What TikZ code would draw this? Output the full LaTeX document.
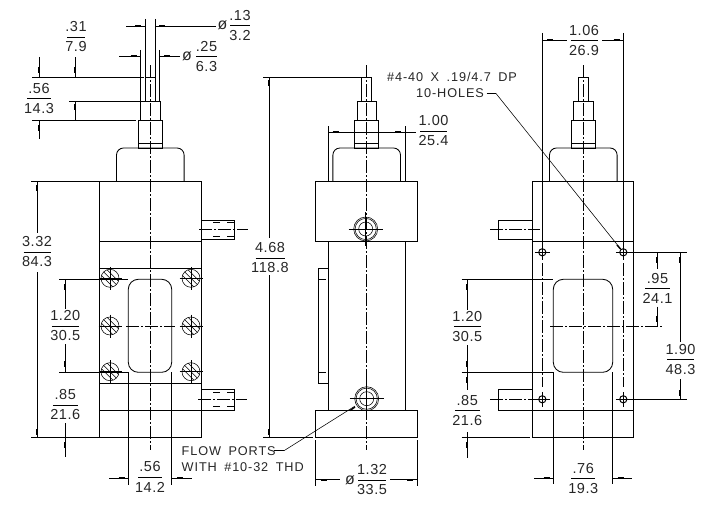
\documentclass[tikz,border=0pt]{standalone}
\usepackage{fontspec}
\setmainfont[LetterSpace=4]{Liberation Sans}
\newfontfamily\notefont[LetterSpace=7,WordSpace=1.7]{Liberation Sans}
\usetikzlibrary{calc}
\def\barGap{10}
\tikzstyle{part} = [line width=0.85pt,black]
\tikzstyle{dim} = [line width=0.8pt,black]
\tikzstyle{thinline} = [line width=0.55pt,black]
\tikzstyle{centerline} = [line width=0.7pt,black,dash pattern=on 13pt off 2pt on 2pt off 2pt]
\tikzstyle{blob} = [line width=1.9pt,black]
\tikzstyle{dimtext} = [inner sep=0pt,font=\fontsize{14.5}{14.5}\selectfont,text=black!85]
\tikzstyle{notetext} = [inner sep=0pt,anchor=west,font=\notefont\fontsize{12.7}{12.7}\selectfont,text=black!85]

\begin{document}
\begin{tikzpicture}[x=1pt,y=-1pt]
    \useasboundingbox (0,0) rectangle (714,511);

    % Draw the stem and the dome of each view
    \foreach \cx in {150.3,366.7,583.3} {
        \draw[part] (\cx-5.2,101) -- (\cx-5.2,77.3) -- (\cx+5.2,77.3) -- (\cx+5.2,101);
        \draw[part] (\cx-9.7,120.3) -- (\cx-9.7,101) -- (\cx+9.7,101) -- (\cx+9.7,120.3);
        \draw[part] (\cx-12.2,148) rectangle (\cx+12.2,120.3);
        \draw[part] (\cx-12.2,143.3) -- (\cx+12.2,143.3);
        \draw[part,rounded corners=7pt] (\cx-33.8,181) -- (\cx-33.8,148) -- (\cx+33.8,148) -- (\cx+33.8,181);
        \draw[centerline] (\cx,65) -- (\cx,450);
    }

    % Draw the left view
    \draw[part] (99.3,181) rectangle (201.7,437);
    \foreach \y in {241,268,383,410}
        \draw[part] (99.3,\y) -- (201.7,\y);
    \draw[part,rounded corners=10pt] (128.3,300) -- (128.3,279.3) -- (171.7,279.3) -- (171.7,372.3) -- (128.3,372.3) -- (128.3,350) -- cycle;
    \draw[centerline] (126,326) -- (175,326);

    % Draw the ports
    \draw[part] (201.7,220.3) rectangle (234.7,239.3);
    \draw[part] (201.7,389.3) rectangle (234.7,410);
    \draw[centerline] (199,229.3) -- (248,229.3);
    \draw[centerline] (198,399.7) -- (247,399.7);
    \foreach \x/\y in {213/222.7,213/236.7,213/392.7,213/406}
        \draw[thinline] (\x,\y) -- (\x+7,\y) (\x+14,\y) -- (\x+21,\y);
    \draw[part] (498.3,220) rectangle (532.3,239.7);
    \draw[part] (498.3,389.3) rectangle (532.3,410);
    \draw[centerline] (490,229.3) -- (540,229.3);
    \draw[centerline] (490,399.3) -- (535,399.3);

    % Draw the hatched holes
    \foreach \hx in {110,191}
        \foreach \hy in {278.3,326,371.7} {
            \draw[thinline] (\hx,\hy) circle (9);
            \draw[thinline] (\hx-11.5,\hy) -- (\hx+11.5,\hy) (\hx,\hy-11.5) -- (\hx,\hy+11.5);
            \foreach \d/\l in {-4/8,0/9,4/8}
                \draw[thinline] (\hx+0.707*\d-0.707*\l,\hy-0.707*\d-0.707*\l) -- (\hx+0.707*\d+0.707*\l,\hy-0.707*\d+0.707*\l);
        }

    % Draw the middle view
    \draw[part] (315.3,181) rectangle (417.7,241.7);
    \draw[part] (315.3,410.3) rectangle (417.7,437.3);
    \draw[part] (328.3,241.7) -- (328.3,410.3) (405.3,241.7) -- (405.3,410.3);
    \draw[part] (318.3,268.3) rectangle (328.3,383.3);
    \draw[thinline] (318.3,279) -- (326,279) (318.3,372) -- (326,372);
    \foreach \name/\px/\py in {P-1/365.7/229,P-2/366.7/398.7} {
        \coordinate (\name) at (\px,\py);
        \draw[thinline] (\name) circle (12) (\name) circle (10.6) (\name) circle (7);
        \draw[thinline] (\px-17,\py) -- (\px+17,\py) (\px,\py-17) -- (\px,\py+17);
    }

    % Draw the right view
    \draw[part] (532.3,181) rectangle (633.7,437);
    \foreach \y in {241,410.3}
        \draw[part] (532.3,\y) -- (633.7,\y);
    \draw[part,rounded corners=10pt] (553.3,300) -- (553.3,279.3) -- (612.7,279.3) -- (612.7,372.3) -- (553.3,372.3) -- (553.3,350) -- cycle;
    \foreach \name/\hx/\hy in {H-1/542.3/252.3,H-2/623.3/252.3,H-3/542.3/399.3,H-4/623.3/399.3} {
        \coordinate (\name) at (\hx,\hy);
        \draw[line width=1pt] (\name) circle (3.6);
        \draw[thinline] (\hx-7.5,\hy) -- (\hx+7.5,\hy) (\hx,\hy-7.5) -- (\hx,\hy+7.5);
    }
    \draw[centerline] (542.3,263) -- (542.3,387);
    \draw[centerline] (623.3,263) -- (623.3,387);
    \draw[centerline] (550,326.7) -- (663,326.7);

    % Draw the extension lines
    \draw[dim] (145.3,19) -- (145.3,77) (155.7,19) -- (155.7,77);
    \draw[dim] (140.3,50) -- (140.3,101) (159.7,50) -- (159.7,101);
    \draw[dim] (32,77.3) -- (144,77.3) (69,101) -- (140,101) (32,120.3) -- (136,120.3);
    \draw[dim] (31,181) -- (99,181) (31,437) -- (99,437);
    \draw[dim] (59,279.3) -- (128.3,279.3) (59,372.3) -- (128.3,372.3);
    \draw[dim] (128.3,372) -- (128.3,485) (171.7,372) -- (171.7,485);
    \draw[dim] (263,77.3) -- (361,77.3) (263,437.3) -- (313,437.3);
    \draw[dim] (328.3,126) -- (328.3,181) (405.3,126) -- (405.3,181);
    \draw[dim] (315.3,440) -- (315.3,486) (417.7,440) -- (417.7,486);
    \draw[dim] (542.3,33) -- (542.3,248) (623.3,33) -- (623.3,248);
    \draw[dim] (461.7,279.3) -- (553.3,279.3) (461.7,372.3) -- (553.3,372.3) (461.7,437) -- (530,437);
    \draw[dim] (553.3,372) -- (553.3,484) (612.7,372) -- (612.7,484);
    \draw[dim] (627,252.3) -- (686.7,252.3) (627,399.3) -- (686.7,399.3);

    % Draw the horizontal dimension lines
    \draw[dim] (126,26) -- (145.3,26) (155.7,26) -- (216,26);
    \draw[dim] (119,56.3) -- (140.3,56.3) (159.7,56.3) -- (180,56.3);
    \draw[dim] (109,478) -- (128.3,478) (171.7,478) -- (192,478);
    \draw[dim] (328.3,132) -- (415.7,132);
    \draw[dim] (315.3,479.7) -- (340,479.7) (390,479.7) -- (417.7,479.7);
    \draw[dim] (542.3,40.3) -- (566.7,40.3) (602,40.3) -- (623.3,40.3);
    \draw[dim] (534,478.3) -- (553.3,478.3) (612.7,478.3) -- (631.7,478.3);
    \foreach \x/\y in {138/26,162/26,133.5/56.3,167/56.3,121.5/478,180/478,335.5/132,398/132,324/479.7,410/479.7,550/40.3,616.5/40.3,546.5/478.3,620.5/478.3}
        \draw[blob] (\x-3,\y) -- (\x+3,\y);

    % Draw the vertical dimension lines
    \draw[dim] (75.3,57.3) -- (75.3,77.3) (75.3,101) -- (75.3,120.3);
    \draw[dim] (39,57) -- (39,77.3) (39,120.3) -- (39,139);
    \draw[dim] (37.3,181) -- (37.3,233) (37.3,272) -- (37.3,437);
    \draw[dim] (65.3,279.3) -- (65.3,309) (65.3,344) -- (65.3,372.3) (65.3,423) -- (65.3,457);
    \draw[dim] (269.3,77.3) -- (269.3,238) (269.3,275) -- (269.3,437.3);
    \draw[dim] (467.3,279.3) -- (467.3,310) (467.3,345) -- (467.3,390) (467.3,432) -- (467.3,458);
    \draw[dim] (657.3,252.3) -- (657.3,269) (657.3,306.7) -- (657.3,326.7);
    \draw[dim] (680.3,252.3) -- (680.3,341.7) (680.3,379.3) -- (680.3,399.3);
    \foreach \x/\y in {75.3/70,75.3/107,39/70,39/128,37.3/188,37.3/432,65.3/287,65.3/364,65.3/445,269.3/83,269.3/432,467.3/287,467.3/364,467.3/380,467.3/445,657.3/260,657.3/319,680.3/260,680.3/393}
        \draw[blob] (\x,\y-3) -- (\x,\y+3);

    % Draw the dimension values
    \foreach \name/\x/\y/\upp/\low/\w in {
        d13/240/25.3/.13/3.2/10,
        d25/206.5/56.7/.25/6.3/10.5,
        d31/76/37/.31/7.9/9,
        d56/39/98.3/.56/14.3/12,
        d332/37/252/3.32/84.3/13.5,
        d120/65.3/326/1.20/30.5/13.5,
        d85/65.3/405/.85/21.6/12.5,
        d56b/150/477/.56/14.2/12,
        d468/270/258/4.68/118.8/14.5,
        d100/433.5/131/1.00/25.4/13.5,
        d132/372/480/1.32/33.5/14,
        d106/584/40.7/1.06/26.9/13.5,
        d120b/467.3/326.7/1.20/30.5/13.5,
        d85b/467.3/410.3/.85/21.6/12.5,
        d95/657.5/288.3/.95/24.1/12.5,
        d190/680.5/359.7/1.90/48.3/13.5,
        d76/583.3/478.3/.76/19.3/12} {
        \node[dimtext] (\name-u) at (\x,\y-\barGap) {\upp};
        \node[dimtext] (\name-l) at (\x,\y+\barGap) {\low};
        \draw[thinline] (\x-\w,\y) -- (\x+\w,\y);
    }
    \node[dimtext,scale=1.1] (phi-1) at (222.5,25.5) {ø};
    \node[dimtext,scale=1.1] (phi-2) at (187,56) {ø};
    \node[dimtext,scale=1.1] (phi-3) at (350,480) {ø};

    % Draw the notes and their leaders
    \node[notetext] (flow) at (181.5,451) {FLOW PORTS};
    \node[notetext] (thd) at (181.5,467) {WITH \#10-32 THD};
    \node[notetext] (holes) at (387,77) {\#4-40 X .19/4.7 DP};
    \node[notetext] (holes-n) at (416,93.5) {10-HOLES};
    \coordinate (flow-knee) at (284,450.7);
    \coordinate (holes-knee) at (496,93.5);
    \draw[thinline] (274,450.7) -- (flow-knee);
    \draw[thinline,shorten >=14pt] (flow-knee) -- (P-2);
    \draw[thinline] (486.7,93.5) -- (holes-knee);
    \draw[thinline,shorten >=4pt] (holes-knee) -- (H-2);
    \draw[blob,line width=1.4pt] (350,410.5) -- (355,407);
    \draw[blob,line width=1.4pt] (617,245) -- (620.5,249);

\end{tikzpicture}
\end{document}
